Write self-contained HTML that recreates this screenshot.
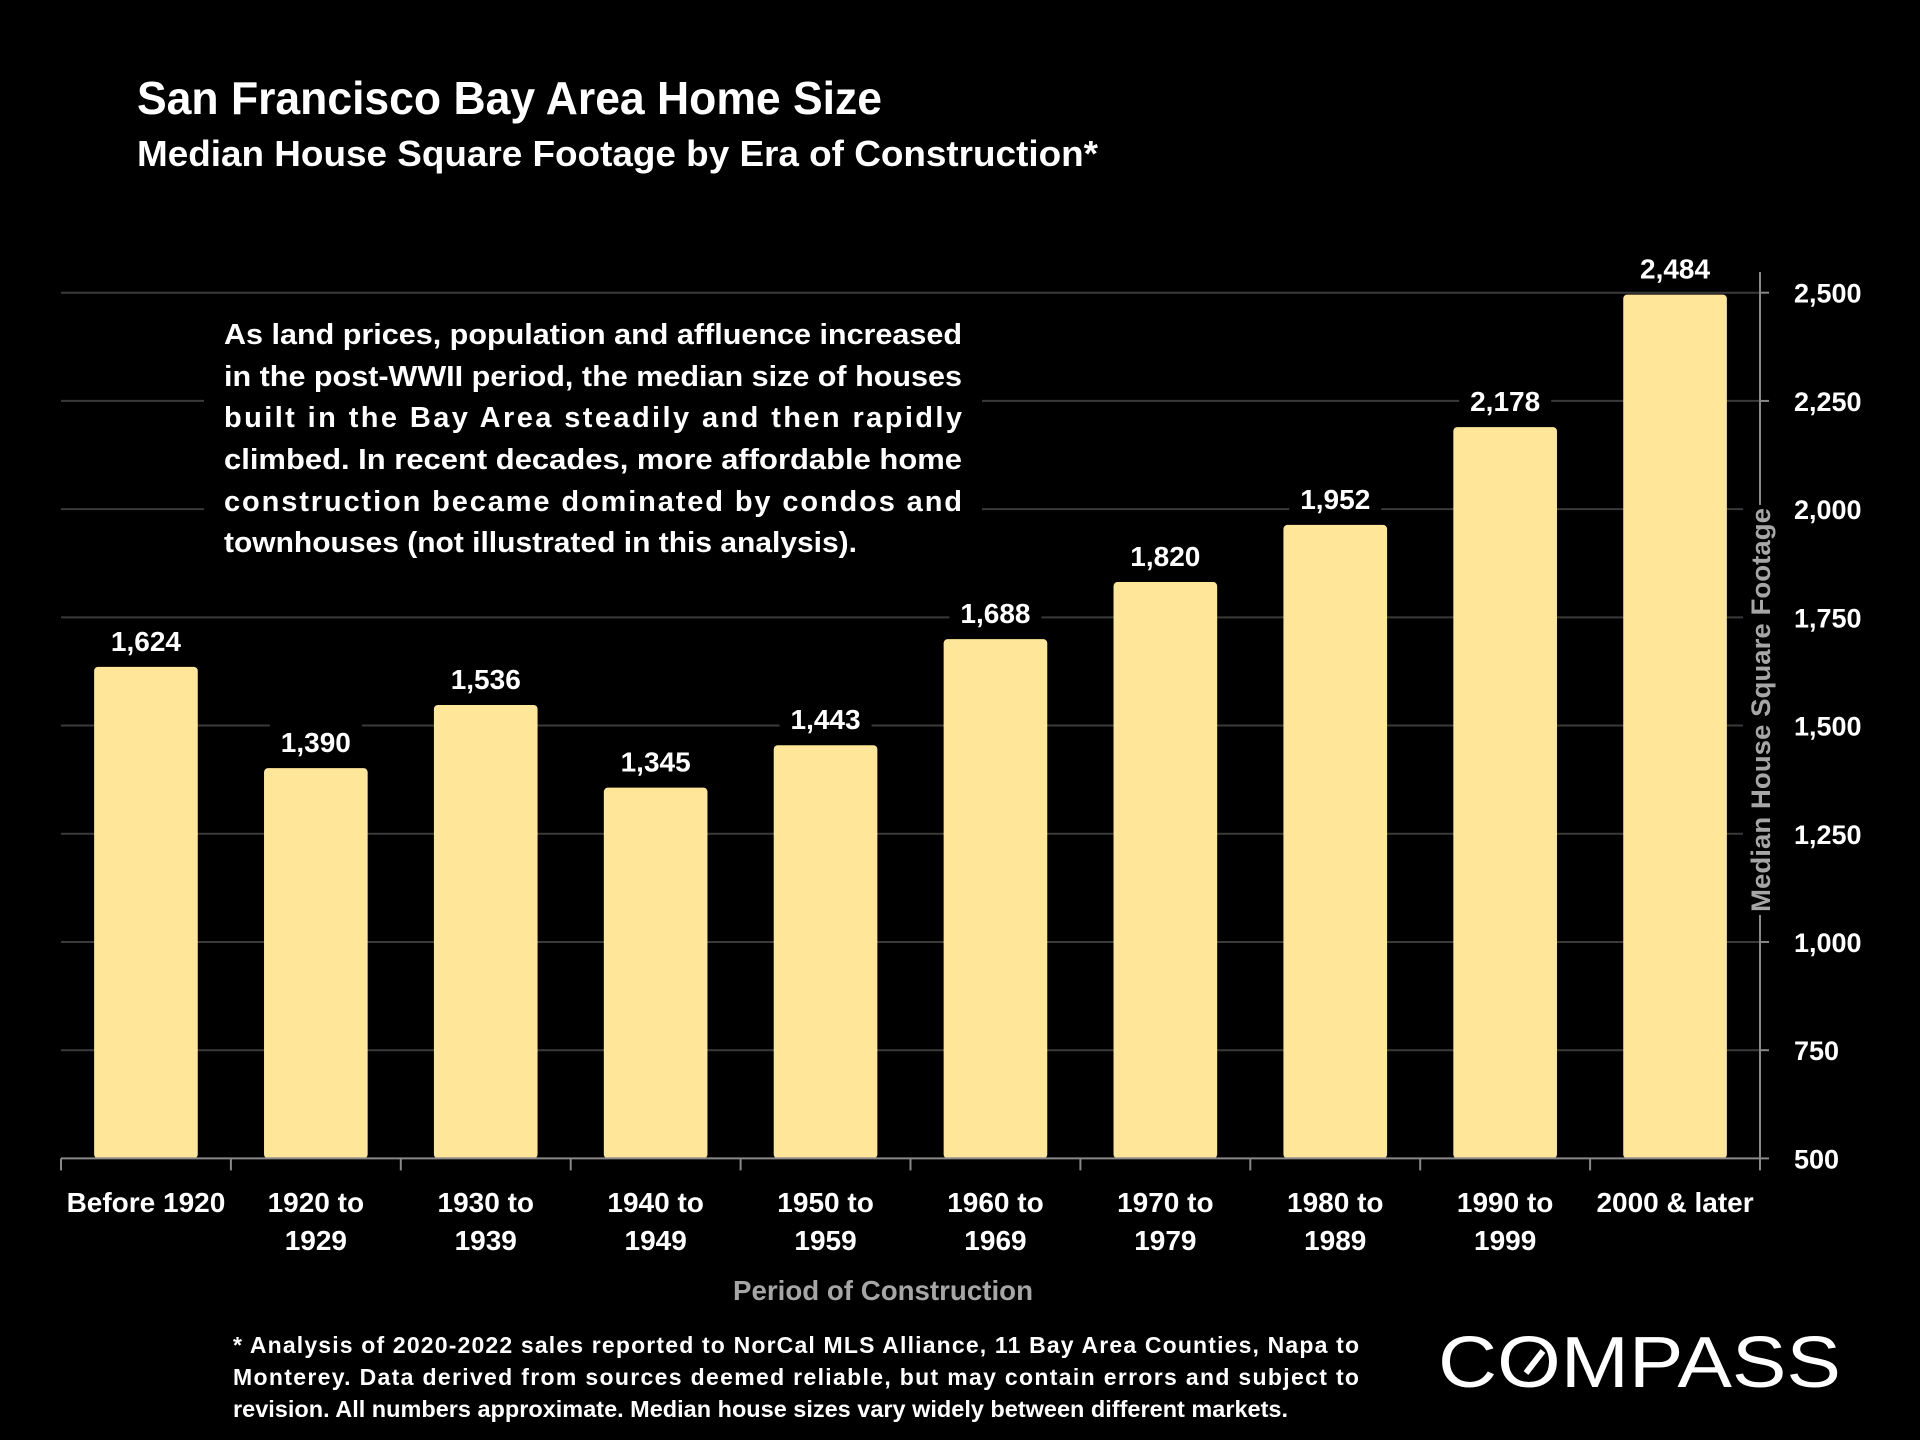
<!DOCTYPE html>
<html><head><meta charset="utf-8"><style>
html,body{margin:0;padding:0;background:#000;}
svg{display:block;font-family:"Liberation Sans",sans-serif;font-weight:bold;}
</style></head><body>
<svg id="chart" width="1920" height="1440" viewBox="0 0 1920 1440" xmlns="http://www.w3.org/2000/svg">
<rect width="1920" height="1440" fill="#000"/>
<text x="137" y="114" font-size="46" fill="#fff" textLength="745" lengthAdjust="spacingAndGlyphs">San Francisco Bay Area Home Size</text>
<text x="137" y="166" font-size="36" fill="#fff" textLength="961" lengthAdjust="spacingAndGlyphs">Median House Square Footage by Era of Construction*</text>
<g id="grid"></g>
<g id="bars"></g>
<g id="axes"></g>
<rect x="204" y="318" width="778" height="252" fill="#000"/>
<g font-size="29" fill="#fff">
<text x="224" y="344" textLength="738" lengthAdjust="spacingAndGlyphs">As land prices, population and affluence increased</text>
<text x="224" y="386" textLength="738" lengthAdjust="spacingAndGlyphs">in the post-WWII period, the median size of houses</text>
<text x="224" y="427" textLength="738" lengthAdjust="spacing">built in the Bay Area steadily and then rapidly</text>
<text x="224" y="469" textLength="738" lengthAdjust="spacingAndGlyphs">climbed. In recent decades, more affordable home</text>
<text x="224" y="511" textLength="738" lengthAdjust="spacing">construction became dominated by condos and</text>
<text x="224" y="552" textLength="633" lengthAdjust="spacingAndGlyphs">townhouses (not illustrated in this analysis).</text>
</g>
<text x="883" y="1300" font-size="28" fill="#a6a6a6" text-anchor="middle" textLength="300" lengthAdjust="spacingAndGlyphs">Period of Construction</text>
<g font-size="23" fill="#fff">
<text x="233" y="1353" textLength="1126" lengthAdjust="spacing">* Analysis of 2020-2022 sales reported to NorCal MLS Alliance, 11 Bay Area Counties, Napa to</text>
<text x="233" y="1385" textLength="1126" lengthAdjust="spacing">Monterey.  Data derived from sources deemed reliable, but may contain errors and subject to</text>
<text x="233" y="1417" textLength="1055" lengthAdjust="spacingAndGlyphs">revision. All numbers approximate. Median house sizes vary widely between different markets.</text>
</g>
<g>
<text x="1438" y="1387" font-size="72" fill="#fff" textLength="403" lengthAdjust="spacingAndGlyphs" style="font-weight:normal">COMPASS</text>
<line x1="1526" y1="1373" x2="1543" y2="1351" stroke="#fff" stroke-width="6"/>
</g>
</svg>
<script>
const categories=[["Before 1920"],["1920 to","1929"],["1930 to","1939"],["1940 to","1949"],["1950 to","1959"],["1960 to","1969"],["1970 to","1979"],["1980 to","1989"],["1990 to","1999"],["2000 & later"]];
const values=[1624,1390,1536,1345,1443,1688,1820,1952,2178,2484];
const valueLabels=["1,624","1,390","1,536","1,345","1,443","1,688","1,820","1,952","2,178","2,484"];
const ticks=[500,750,1000,1250,1500,1750,2000,2250,2500];
const tickLabels=["500","750","1,000","1,250","1,500","1,750","2,000","2,250","2,500"];
const NS="http://www.w3.org/2000/svg";
const X0=61,X1=1760,Y0=1158.4,Y1=292.7,VMIN=500,VMAX=2500;
function y(v){return Y0-(v-VMIN)/(VMAX-VMIN)*(Y0-Y1);}
const band=(X1-X0)/categories.length;
function xc(i){return X0+band*(i+0.5);}
function mk(tag,attrs,parent,txt){const e=document.createElementNS(NS,tag);for(const k in attrs)e.setAttribute(k,attrs[k]);if(txt!==undefined)e.textContent=txt;parent.appendChild(e);return e;}
const grid=document.getElementById('grid'),bars=document.getElementById('bars'),axes=document.getElementById('axes');
ticks.forEach((t,i)=>{
  if(t>VMIN){const l=mk('line',{x1:X0,x2:X1,y1:y(t),y2:y(t),stroke:'#3a3a3a','stroke-width':2},grid);
  
  }
  const tk=mk('line',{x1:X1,x2:X1+9,y1:y(t),y2:y(t),stroke:'#888','stroke-width':2},axes);
  
  
  const lb=mk('text',{x:X1+34,y:y(t)+10,'font-size':27,fill:'#fff'},axes,tickLabels[i]);
  
  
});
const bw=band*0.61;
values.forEach((v,i)=>{
  const top=y(v)-5;
  const r=mk('rect',{x:xc(i)-bw/2,y:top,width:bw,height:Y0-top,rx:4,fill:'#FFE699'},bars);
  
  
  const bg=mk('rect',{x:xc(i)-46,y:y(v)-50,width:92,height:36,fill:'#000'},bars);
  
  
  const t=mk('text',{x:xc(i),y:y(v)-21,'font-size':28,fill:'#fff','text-anchor':'middle'},bars,valueLabels[i]);
  
  
  categories[i].forEach((ln,j)=>{
    const c=mk('text',{x:xc(i),y:1212+j*38,'font-size':28,fill:'#fff','text-anchor':'middle'},axes,ln);
    
    
  });
});
const xa=mk('line',{x1:X0,x2:X1,y1:Y0,y2:Y0,stroke:'#888','stroke-width':2},axes);


for(let i=0;i<=categories.length;i++){
  const t=mk('line',{x1:X0+band*i,x2:X0+band*i,y1:Y0,y2:Y0+12,stroke:'#888','stroke-width':2},axes);
  
  
}
const ya=mk('line',{x1:X1,x2:X1,y1:Y0,y2:272,stroke:'#888','stroke-width':2},axes);


const tbg=mk('rect',{x:X1-17,y:505,width:34,height:410,fill:'#000'},axes);


const yt=mk('text',{x:0,y:0,'font-size':27,fill:'#a6a6a6','text-anchor':'middle',transform:'translate('+(X1+10)+',710) rotate(-90)',textLength:404,lengthAdjust:'spacingAndGlyphs'},axes,'Median House Square Footage');


</script>
</body></html>
